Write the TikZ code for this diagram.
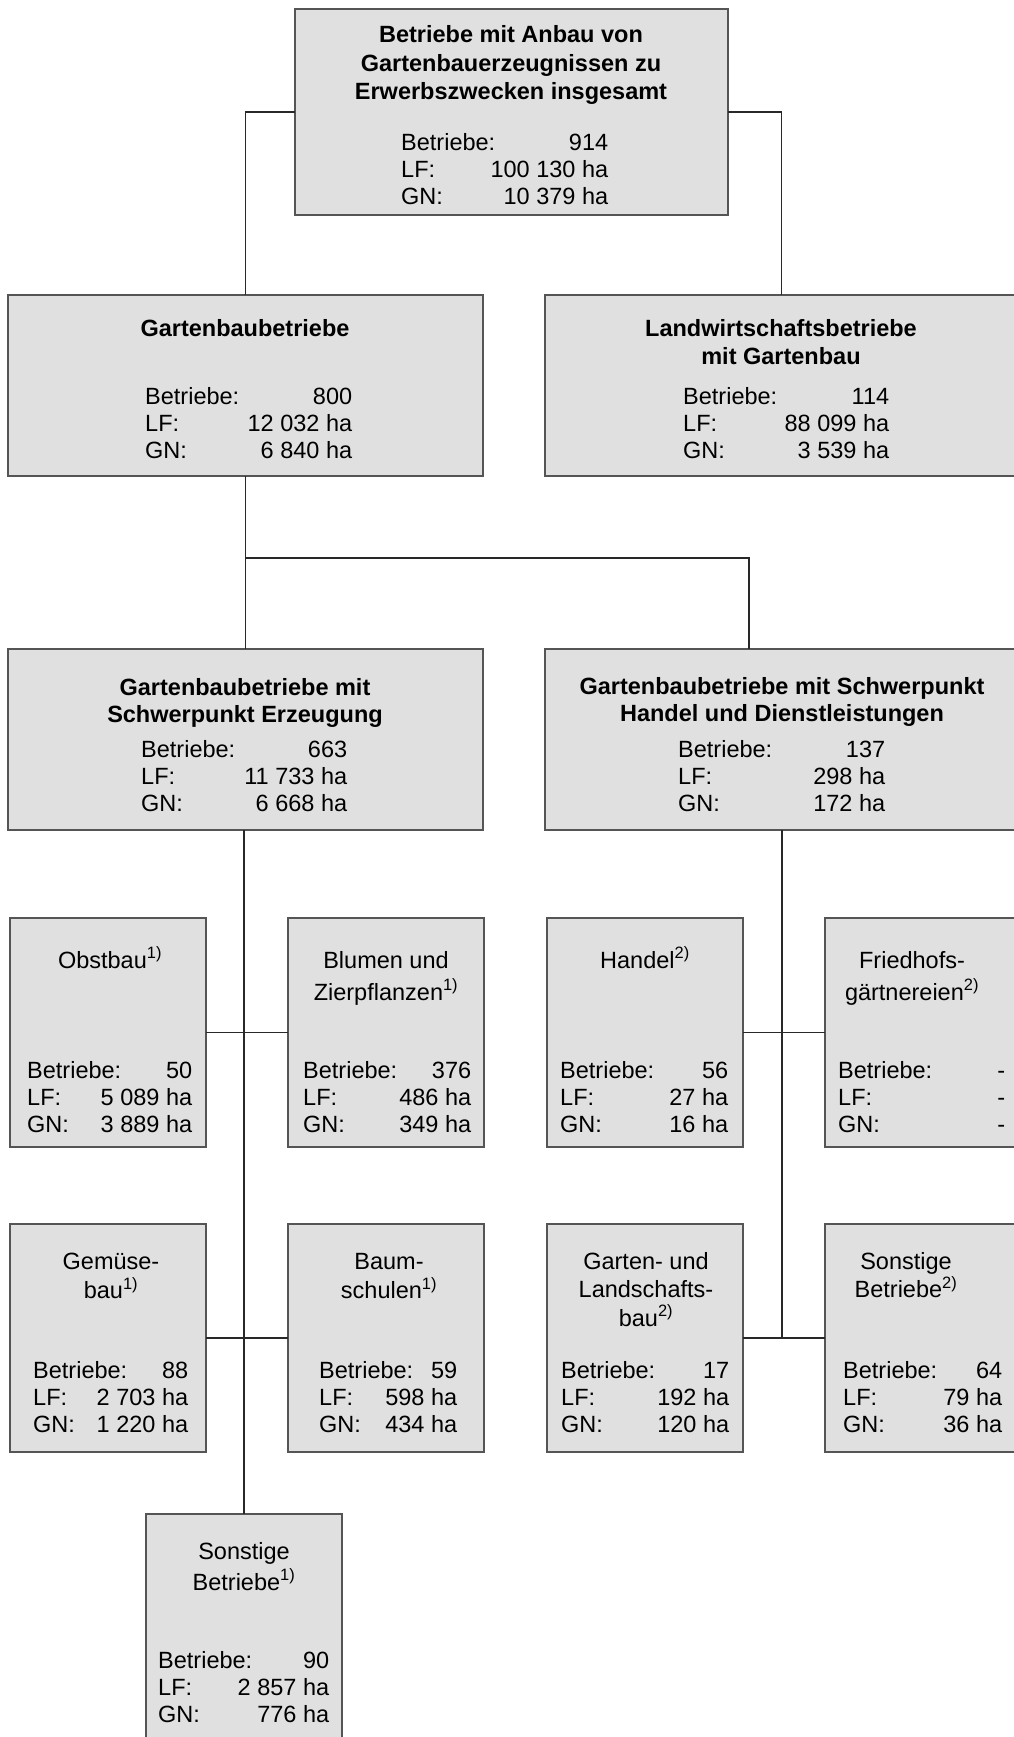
\documentclass[tikz,border=0pt]{standalone}
\usepackage{fontspec}
\setmainfont{Liberation Sans}
\definecolor{boxfill}{RGB}{224,224,224}
\definecolor{boxline}{RGB}{85,85,85}
\definecolor{conncol}{RGB}{40,40,40}
\newcommand{\dtab}[4]{\parbox[b]{#1pt}{Betriebe:\hfill #2\\LF:\hfill #3\\GN:\hfill #4}}
\newcommand{\ttx}[2]{\parbox[t]{#1pt}{\centering #2}}
\begin{document}
\begin{tikzpicture}[x=1pt,y=-1pt,
  box/.style={draw=boxline, fill=boxfill, line width=1.3pt, anchor=north west, inner sep=0pt, outer sep=0pt},
  ttl/.style={anchor=base, inner sep=0pt, font=\fontsize{23.5pt}{#1}\selectfont\bfseries},
  stl/.style={anchor=base, inner sep=0pt, font=\fontsize{23.5pt}{#1}\selectfont},
  dat/.style={anchor=base west, inner sep=0pt, font=\fontsize{23.5pt}{27pt}\selectfont},
  conn/.style={draw=conncol, line width=1.2pt}]
\useasboundingbox (0,0) rectangle (1014,1737);
\clip (0,0) rectangle (1014,1737);

% boxes
\node[box, minimum width=433pt, minimum height=206pt] (top) at (295,9) {};
\node[box, minimum width=475pt, minimum height=181pt] (gb) at (8,295) {};
\node[box, minimum width=473pt, minimum height=181pt] (lw) at (545,295) {};
\node[box, minimum width=475pt, minimum height=181pt] (erz) at (8,649) {};
\node[box, minimum width=474pt, minimum height=181pt] (hd) at (545,649) {};
\node[box, minimum width=196pt, minimum height=229pt] (ob) at (10,918) {};
\node[box, minimum width=196pt, minimum height=229pt] (bl) at (288,918) {};
\node[box, minimum width=196pt, minimum height=229pt] (ha) at (547,918) {};
\node[box, minimum width=196pt, minimum height=229pt] (fr) at (825,918) {};
\node[box, minimum width=196pt, minimum height=228pt] (ge) at (10,1224) {};
\node[box, minimum width=196pt, minimum height=228pt] (ba) at (288,1224) {};
\node[box, minimum width=196pt, minimum height=228pt] (gl) at (547,1224) {};
\node[box, minimum width=196pt, minimum height=228pt] (so2) at (825,1224) {};
\node[box, minimum width=196pt, minimum height=250pt] (so1) at (146,1514) {};

% connectors
\draw[conn] (top.west) -| (gb.north);
\draw[conn] (top.east) -| (lw.north);
\draw[conn] (gb.south) -- (erz.north);
\coordinate (j1) at (245.5,558);
\draw[conn] (j1) -| ([xshift=204pt]hd.north west);
\draw[conn] (erz.south -| so1.north) -- (so1.north);
\draw[conn] (ob.east) -- (bl.west);
\draw[conn] (ge.east) -- (ba.west);
\draw[conn] (hd.south) -- (hd.south |- gl.east);
\draw[conn] (ha.east) -- (fr.west);
\draw[conn] (gl.east) -- (so2.west);

% titles
\node[ttl=28.5pt] (top-t) at (511,43) {\ttx{500}{Betriebe mit Anbau von\\Gartenbauerzeugnissen zu\\Erwerbszwecken insgesamt}};
\node[ttl=28pt] (gb-t) at (245,336) {\ttx{460}{Gartenbaubetriebe}};
\node[ttl=28pt] (lw-t) at (781,336) {\ttx{460}{Landwirtschaftsbetriebe\\mit Gartenbau}};
\node[ttl=27pt] (erz-t) at (245,695) {\ttx{460}{Gartenbaubetriebe mit\\Schwerpunkt Erzeugung}};
\node[ttl=27pt] (hd-t) at (782,694) {\ttx{470}{Gartenbaubetriebe mit Schwerpunkt\\Handel und Dienstleistungen}};
\node[stl=32pt] (ob-t) at (110,968) {\ttx{190}{Obstbau\textsuperscript{1)}}};
\node[stl=32pt] (bl-t) at (386,968) {\ttx{190}{Blumen und\\Zierpflanzen\textsuperscript{1)}}};
\node[stl=32pt] (ha-t) at (645,968) {\ttx{190}{Handel\textsuperscript{2)}}};
\node[stl=32pt] (fr-t) at (912,968) {\ttx{190}{Friedhofs-\\gärtnereien\textsuperscript{2)}}};
\node[stl=29.5pt] (ge-t) at (111,1269) {\ttx{190}{Gemüse-\\bau\textsuperscript{1)}}};
\node[stl=29.5pt] (ba-t) at (389,1269) {\ttx{190}{Baum-\\schulen\textsuperscript{1)}}};
\node[stl=28.5pt] (gl-t) at (646,1269) {\ttx{190}{Garten- und\\Landschafts-\\bau\textsuperscript{2)}}};
\node[stl=28.5pt] (so2-t) at (906,1269) {\ttx{190}{Sonstige\\Betriebe\textsuperscript{2)}}};
\node[stl=31pt] (so1-t) at (244,1559) {\ttx{190}{Sonstige\\Betriebe\textsuperscript{1)}}};

% data
\node[dat] (top-d) at (401,204) {\dtab{207}{914}{100~130 ha}{10~379 ha}};
\node[dat] (gb-d) at (145,458) {\dtab{207}{800}{12~032 ha}{6~840 ha}};
\node[dat] (lw-d) at (683,458) {\dtab{206}{114}{88~099 ha}{3~539 ha}};
\node[dat] (erz-d) at (141,811) {\dtab{206}{663}{11~733 ha}{6~668 ha}};
\node[dat] (hd-d) at (678,811) {\dtab{207}{137}{298 ha}{172 ha}};
\node[dat] (ob-d) at (27,1132) {\dtab{165}{50}{5~089 ha}{3~889 ha}};
\node[dat] (bl-d) at (303,1132) {\dtab{168}{376}{486 ha}{349 ha}};
\node[dat] (ha-d) at (560,1132) {\dtab{168}{56}{27 ha}{16 ha}};
\node[dat] (fr-d) at (838,1132) {\dtab{167}{-}{-}{-}};
\node[dat] (ge-d) at (33,1432) {\dtab{155}{88}{2~703 ha}{1~220 ha}};
\node[dat] (ba-d) at (319,1432) {\dtab{138}{59}{598 ha}{434 ha}};
\node[dat] (gl-d) at (561,1432) {\dtab{168}{17}{192 ha}{120 ha}};
\node[dat] (so2-d) at (843,1432) {\dtab{159}{64}{79 ha}{36 ha}};
\node[dat] (so1-d) at (158,1722) {\dtab{171}{90}{2~857 ha}{776 ha}};
\end{tikzpicture}
\end{document}
